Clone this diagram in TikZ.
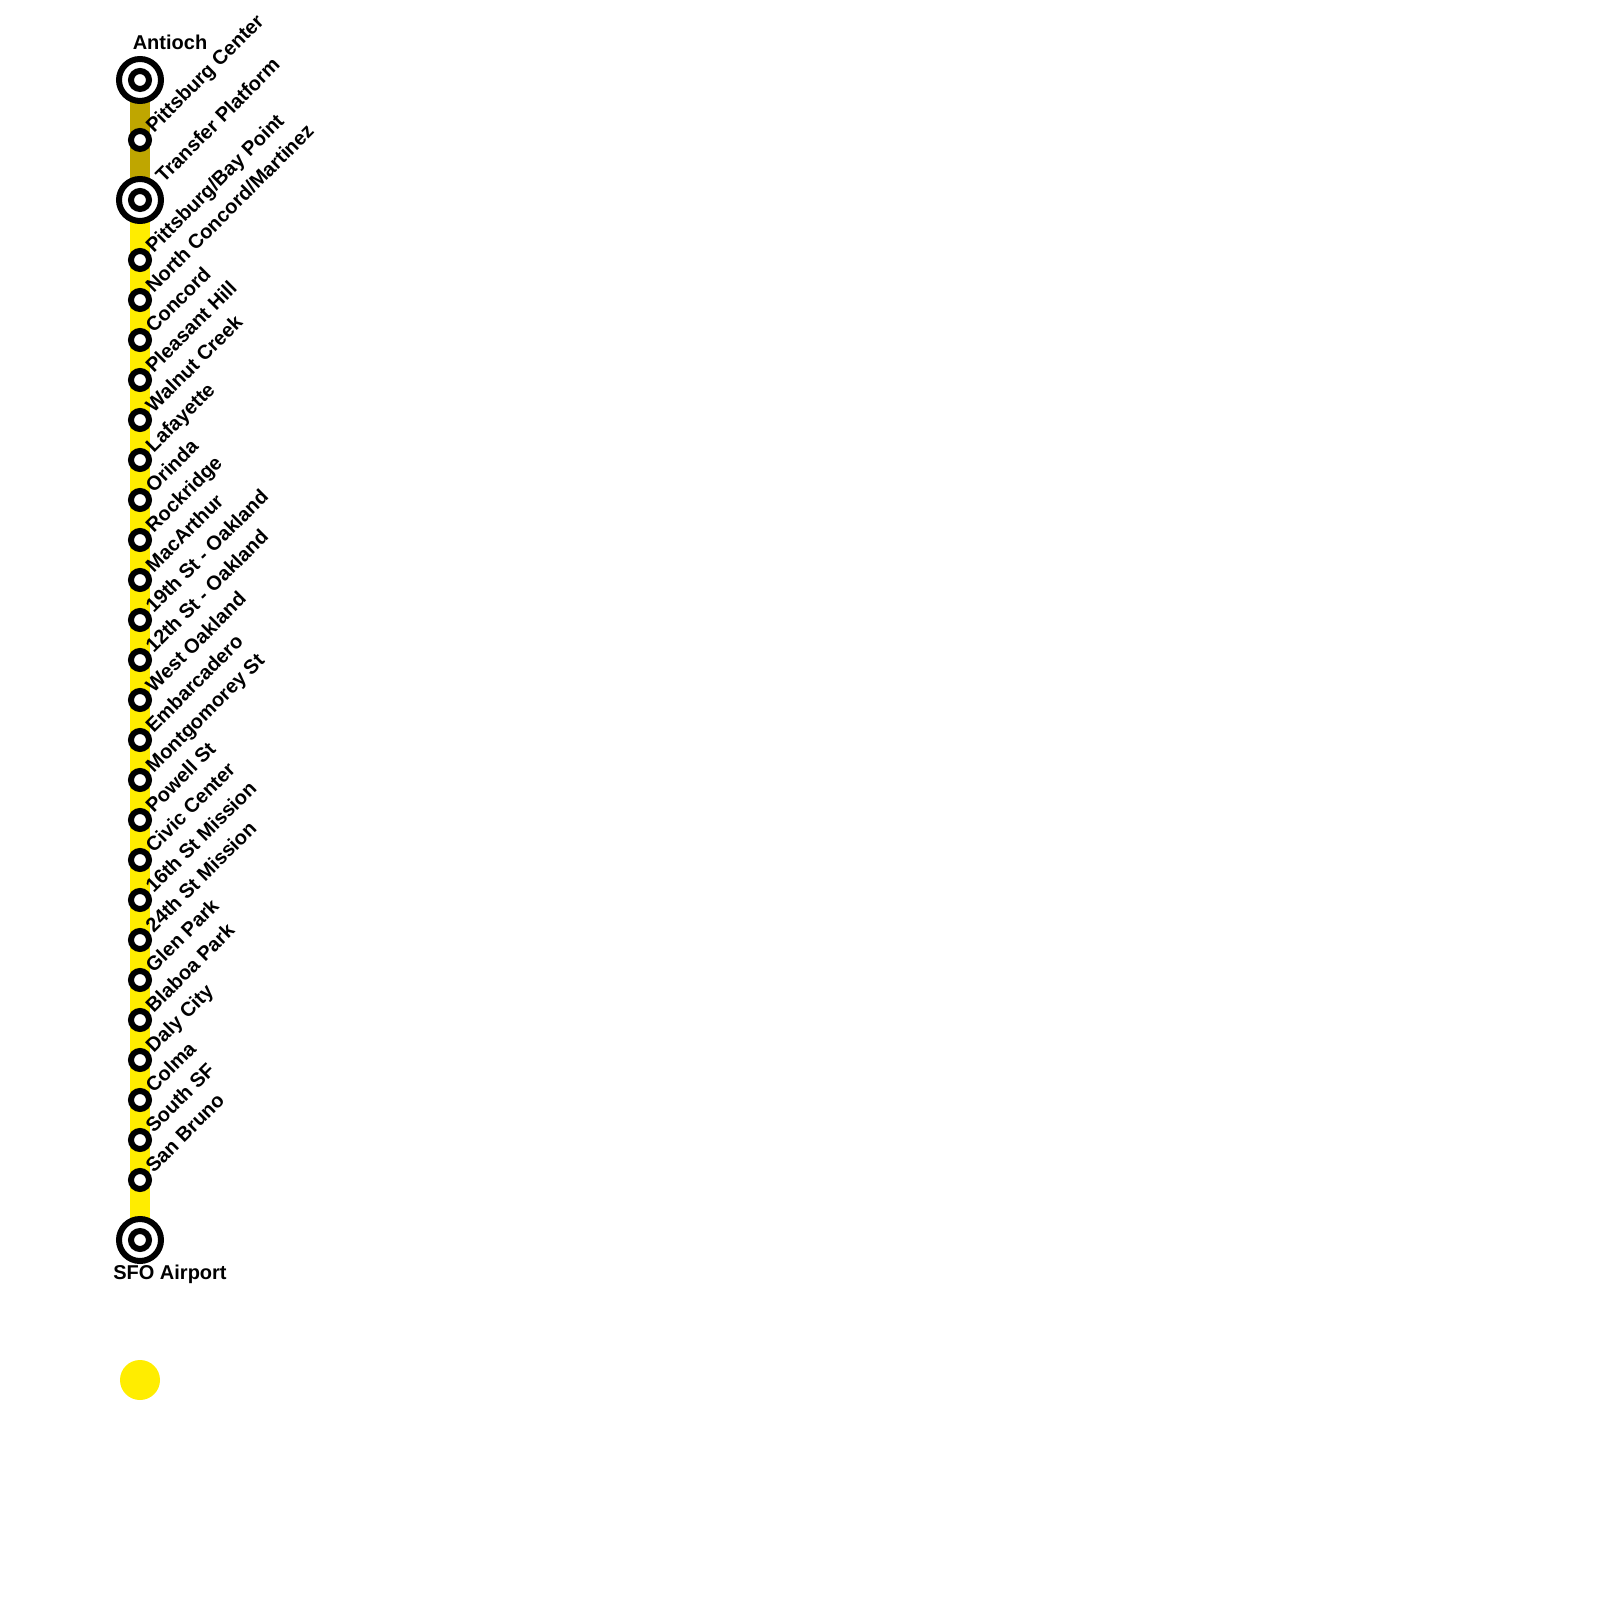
\documentclass[tikz,border=0pt]{standalone}
\usepackage{fontspec}
\setmainfont{Liberation Sans}
\usetikzlibrary{backgrounds, calc}
\definecolor{lineyellow}{RGB}{255, 237, 0}
\definecolor{lineolive}{RGB}{191, 166, 0}

\begin{document}
\begin{tikzpicture}[
                stop/.style={
                    circle,
                    draw=black,
                    fill=white,
                    line width=0.06cm,
                    minimum size=0.18cm,
                    inner sep=0pt,
                    outer sep=0pt
                },
                bigstop/.style={
                    stop,
                    minimum size=0.42cm
                },
                etiqueta/.style={
                    font=\fontsize{5.69}{7}\selectfont\bfseries,
                    inner sep=0pt
                },
                diagonal/.style={
                    etiqueta,
                    rotate=45,
                    anchor=base west
                }
            ]
                \useasboundingbox (0,0) rectangle (16,-16);
                \node[bigstop] (antioch) at (1.4,-0.8) {};
                \node[stop] (antiochin) at (antioch) {};
                \node[bigstop] (transfer) at (1.4,-2) {};
                \node[stop] (transferin) at (transfer) {};
                \node[bigstop] (sfo) at (1.4,-12.4) {};
                \node[stop] (sfoin) at (sfo) {};
                \node[stop] (pcenter) at (1.4,-1.4) {};
                \node[etiqueta, anchor=base] (antiochlbl) at (1.7,-0.5) {Antioch};
                \node[etiqueta, anchor=base] (sfolbl) at (1.7,-12.79) {SFO Airport};
                \node[diagonal] (pcenterlbl) at (1.535,-1.34) {Pittsburg Center};
                \node[diagonal] (transferlbl) at (1.635,-1.84) {Transfer Platform};
                \foreach \n/\txt [count=\i from 0] in {
                    bay/Pittsburg\slash Bay Point, north/North Concord\slash Martinez,
                    concord/Concord, pleasant/Pleasant Hill, walnut/Walnut Creek,
                    lafayette/Lafayette, orinda/Orinda, rockridge/Rockridge,
                    macarthur/MacArthur, oak19/19th St - Oakland, oak12/12th St - Oakland,
                    westoak/West Oakland, embarcadero/Embarcadero, montgomorey/Montgomorey St,
                    powell/Powell St, civic/Civic Center, mission16/16th St Mission,
                    mission24/24th St Mission, glen/Glen Park, blaboa/Blaboa Park,
                    daly/Daly City, colma/Colma, southsf/South SF, sanbruno/San Bruno}{
                    \node[stop] (\n) at (1.4,{-2.6-0.4*\i}) {};
                    \node[diagonal] (\n lbl) at ($(\n)+(0.135,0.06)$) {\txt};
                }
                \node[circle, fill=lineyellow, minimum size=0.4cm, inner sep=0pt, outer sep=0pt] (legend) at (1.4,-13.8) {};
                % line goes under the stations
                \begin{scope}[on background layer]
                    \draw[line width=0.2cm, lineolive] (antioch.center) -- (transfer.center);
                    \draw[line width=0.2cm, lineyellow] (transfer.center) -- (sfo.center);
                \end{scope}
            \end{tikzpicture}
\end{document}
